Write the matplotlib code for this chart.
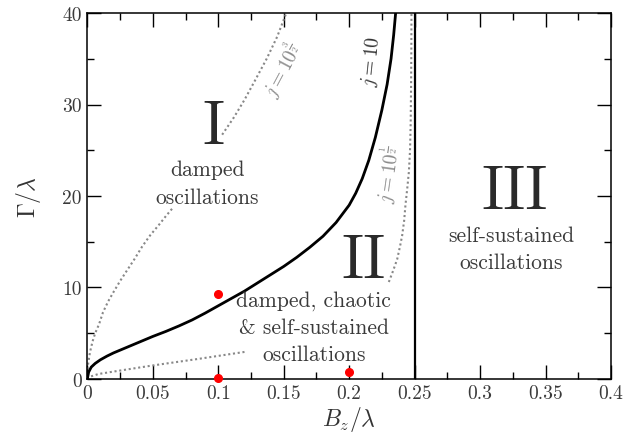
import matplotlib
matplotlib.use("Agg")
import matplotlib.pyplot as plt
from matplotlib.ticker import MultipleLocator

plt.rcParams['font.family'] = 'cmr10'
plt.rcParams['mathtext.fontset'] = 'cm'
plt.rcParams['axes.formatter.use_mathtext'] = True

# phase boundary for j = 10 (solid)
b_j10 = [0, 0.001, 0.003, 0.006, 0.01, 0.015, 0.02, 0.03, 0.04, 0.05, 0.06,
         0.07, 0.08, 0.09, 0.10, 0.11, 0.12, 0.13, 0.14, 0.15, 0.16, 0.17,
         0.18, 0.19, 0.20, 0.205, 0.21, 0.215, 0.22, 0.225, 0.229, 0.232,
         0.234, 0.2355]
g_j10 = [0, 0.75, 1.3, 1.7, 2.1, 2.5, 2.85, 3.45, 4.05, 4.65, 5.2,
         5.8, 6.45, 7.2, 8.0, 8.8, 9.6, 10.5, 11.4, 12.3, 13.3, 14.4,
         15.6, 17.1, 19.0, 20.3, 21.9, 23.9, 26.4, 29.4, 32.2, 35.0,
         37.6, 40.0]

# j = 10^(3/2), visible pieces on either side of the region I labels
b_j32_lo = [0, 0.0005, 0.001, 0.002, 0.004, 0.006, 0.009, 0.012, 0.016, 0.02,
            0.025, 0.03, 0.036, 0.042, 0.048, 0.055, 0.06, 0.065]
g_j32_lo = [0, 1.5, 2.0, 2.9, 4.1, 5.0, 6.0, 7.3, 8.5, 9.5,
            10.7, 11.8, 13.1, 14.5, 15.7, 16.9, 17.8, 18.65]
b_j32_hi = [0.103, 0.112, 0.120, 0.128, 0.137, 0.145, 0.152]
g_j32_hi = [26.7, 28.6, 30.5, 32.6, 35.0, 37.4, 40.0]

# j = 10^(1/2), visible pieces on either side of the region II labels
b_j12_lo = [0, 0.0005, 0.002, 0.0086, 0.024, 0.049, 0.085, 0.122]
g_j12_lo = [0, 0.12, 0.25, 0.55, 0.9, 1.46, 2.2, 3.0]
b_j12_hi = [0.2303, 0.2335, 0.2367, 0.239, 0.2405, 0.242, 0.243, 0.2445,
            0.2456, 0.2465, 0.247, 0.2473, 0.2475, 0.2476]
g_j12_hi = [10.6, 11.8, 13.1, 14.6, 15.7, 17.3, 19.0, 21.0,
            22.6, 25.0, 28.0, 32.0, 36.0, 40.0]

# sample parameter points
pts_b = [0.1, 0.1, 0.2]
pts_g = [9.3, 0.15, 0.8]

b_crit = 0.25

xticks = [0, 0.05, 0.1, 0.15, 0.2, 0.25, 0.3, 0.35, 0.4]
xticklabels = ['0', '0.05', '0.1', '0.15', '0.2', '0.25', '0.3', '0.35', '0.4']
yticks = [0, 10, 20, 30, 40]
yticklabels = ['0', '10', '20', '30', '40']

fig = plt.figure(figsize=(6.35, 4.39), dpi=100)
ax = fig.add_axes([0.1375, 0.1344, 0.8247, 0.8337])

dotted = dict(color='#888888', linestyle=(0, (1, 1.3)), linewidth=1.5)
ax.plot(b_j32_lo, g_j32_lo, **dotted)
ax.plot(b_j32_hi, g_j32_hi, **dotted)
ax.plot(b_j12_lo, g_j12_lo, **dotted)
ax.plot(b_j12_hi, g_j12_hi, **dotted)
ax.plot(b_j10, g_j10, color='black', linewidth=2.0)
ax.axvline(b_crit, color='black', linewidth=1.6)
ax.plot(pts_b, pts_g, 'o', color='red', markersize=5.5, clip_on=False, zorder=5)

ax.set_xlim(0, 0.4)
ax.set_ylim(0, 40)
ax.set_xticks(xticks)
ax.set_xticklabels(xticklabels)
ax.set_yticks(yticks)
ax.set_yticklabels(yticklabels)
ax.xaxis.set_minor_locator(MultipleLocator(0.025))
ax.yaxis.set_minor_locator(MultipleLocator(5))
ax.tick_params(which='both', direction='in', top=True, right=True,
               labelsize=14, labelcolor='#3a3a3a', width=1.0)
ax.tick_params(which='major', length=10, pad=4)
ax.tick_params(which='minor', length=5)
for s in ax.spines.values():
    s.set_linewidth(1.1)

ax.set_xlabel(r'$B_z/\lambda$', fontsize=17, color='#333333', labelpad=1)
ax.set_ylabel(r'$\Gamma/\lambda$', fontsize=17, color='#333333', labelpad=14)

# region labels
dark = '#2a2a2a'
body = dict(fontsize=15.5, color='#3a3a3a', ha='center', va='center',
            linespacing=1.5)
ax.text(0.096, 27.5, 'I', fontsize=44, color=dark, ha='center', va='center')
ax.text(0.0915, 21.4, 'damped\noscillations', **body)
ax.text(0.211, 12.9, 'II', fontsize=44, color=dark, ha='center', va='center')
ax.text(0.173, 5.7, 'damped, chaotic\n& self-sustained\noscillations', **body)
ax.text(0.326, 20.4, 'III', fontsize=44, color=dark, ha='center', va='center')
ax.text(0.324, 14.2, 'self-sustained\noscillations', **body)

# curve labels
grey = '#8a8a8a'
ax.text(0.149, 33.9, r'$j=10^{\frac{3}{2}}$', fontsize=14, color=grey,
        rotation=62, ha='center', va='center')
ax.text(0.217, 34.8, r'$j=10$', fontsize=14, color='#333333',
        rotation=84, ha='center', va='center')
ax.text(0.230, 22.4, r'$j=10^{\frac{1}{2}}$', fontsize=14, color=grey,
        rotation=82, ha='center', va='center')

fig.savefig('out.png', dpi=100)
